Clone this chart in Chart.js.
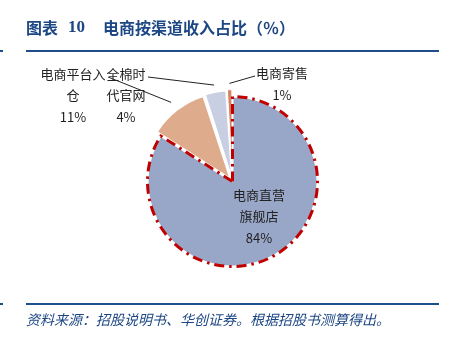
<!DOCTYPE html>
<html>
<head>
<meta charset="utf-8">
<script src="https://cdn.jsdelivr.net/npm/chart.js@4/dist/chart.umd.min.js"></script>
<style>
    body { margin: 0; background: #fff; }
    #wrap { position: relative; width: 452px; height: 339px; overflow: hidden; }
    #pieChart { position: absolute; left: 0; top: 0; }
    .title { position: absolute; top: 18px; font: bold 16px/18px "Noto Sans CJK SC", sans-serif; color: #1d4784; white-space: nowrap; }
    .title.num { font-family: "Liberation Serif", serif; font-size: 17px; }
    .rule { position: absolute; height: 2px; background: #1f4e8c; }
    .source { position: absolute; left: 26px; top: 311px; font: italic 14px/16px "Noto Sans CJK SC", sans-serif; color: #1d4784; white-space: nowrap; }
</style>
</head>
<body>
<div id="wrap">
    <canvas id="pieChart" width="452" height="339"></canvas>
    <div class="title" style="left:26px">图表</div>
    <div class="title num" style="left:68px">10</div>
    <div class="title" style="left:103px">电商按渠道收入占比（％）</div>
    <div class="rule" style="left:0;top:50px;width:3px"></div>
    <div class="rule" style="left:26px;top:50px;width:413px"></div>
    <div class="rule" style="left:0;top:303px;width:3px"></div>
    <div class="rule" style="left:26px;top:303px;width:413px"></div>
    <div class="source">资料来源：招股说明书、华创证券。根据招股书测算得出。</div>
</div>
<script>
const categories = ["电商直营旗舰店", "电商平台入仓", "全棉时代官网", "电商寄售"];
const shares = [84, 11, 4, 1];
// label text split over lines, last line is the percentage
const labelLines = [
    ["电商直营", "旗舰店"],
    ["电商平台入", "仓"],
    ["全棉时", "代官网"],
    ["电商寄售"],
];

const sliceColors = ["#98a6c7", "#deab8c", "#c8cfe3", "#d48360"];

// label block centre x, first line y, line gap
const labelSpots = [
    { x: 259, y: 195, gap: 21.5 },
    { x: 73, y: 74, gap: 21.5 },
    { x: 126, y: 74, gap: 21.5 },
    { x: 282, y: 73, gap: 22 },
];
// where each leader starts next to its label (direct slice has none)
const leaderStarts = [null, { x: 108, y: 77 }, { x: 148, y: 77 }, { x: 255, y: 76 }];

function arcPoint(arc, angle, r) {
    const mid = (arc.startAngle + arc.endAngle) / 2;
    const off = arc.options.offset || 0;
    const cx = arc.x + Math.cos(mid) * off;
    const cy = arc.y + Math.sin(mid) * off;
    return { x: cx + Math.cos(angle) * r, y: cy + Math.sin(angle) * r, cx: cx, cy: cy };
}

const pieDecor = {
    id: "pieDecor",
    afterDatasetsDraw(chart) {
        const ctx = chart.ctx;
        const arcs = chart.getDatasetMeta(0).data;

        // red dash-dot outline round the biggest slice
        const big = arcs[0];
        const c = arcPoint(big, 0, 0);
        ctx.save();
        ctx.strokeStyle = "#c00000";
        ctx.lineWidth = 3;
        ctx.setLineDash([10, 5, 2.5, 5]);
        ctx.beginPath();
        ctx.moveTo(c.cx, c.cy);
        ctx.arc(c.cx, c.cy, big.outerRadius, big.startAngle, big.endAngle);
        ctx.closePath();
        ctx.stroke();
        ctx.restore();

        // leader lines
        ctx.save();
        ctx.strokeStyle = "#222";
        ctx.lineWidth = 1;
        arcs.forEach((arc, i) => {
            const s = leaderStarts[i];
            if (!s) return;
            const mid = (arc.startAngle + arc.endAngle) / 2;
            const p = arcPoint(arc, mid, arc.outerRadius * 0.99);
            ctx.beginPath();
            ctx.moveTo(s.x, s.y);
            ctx.lineTo(p.x, p.y);
            ctx.stroke();
        });
        ctx.restore();

        // labels
        ctx.save();
        ctx.fillStyle = "#222";
        ctx.font = '13px "Noto Sans CJK SC", sans-serif';
        ctx.textAlign = "center";
        ctx.textBaseline = "middle";
        shares.forEach((v, i) => {
            const spot = labelSpots[i];
            const lines = labelLines[i].concat([v + "%"]);
            lines.forEach((t, k) => {
                ctx.fillText(t, spot.x, spot.y + k * spot.gap);
            });
        });
        ctx.restore();
    },
};

const chart = new Chart(document.getElementById("pieChart"), {
    type: "pie",
    data: {
        labels: categories,
        datasets: [
            {
                data: shares,
                backgroundColor: sliceColors,
                borderColor: "#ffffff",
                borderWidth: [2, 1.5, 1.5, 1],
                offset: [0, 16, 14, 14],
                radius: 85,
            },
        ],
    },
    options: {
        responsive: false,
        animation: false,
        layout: {
            padding: { left: 60, right: 47, top: 60, bottom: 36 },
        },
        plugins: {
            legend: { display: false },
            tooltip: { enabled: false },
        },
    },
    plugins: [pieDecor],
});
</script>
</body>
</html>
